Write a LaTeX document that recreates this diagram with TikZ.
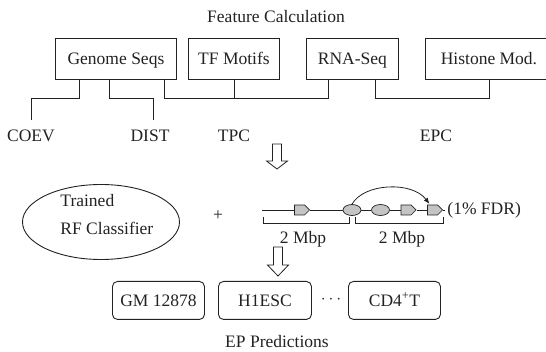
\documentclass[tikz,border=0pt]{standalone}
\usepackage{fontspec}
\setmainfont{Liberation Serif}
\usetikzlibrary{shapes.geometric,shapes.symbols,calc,arrows.meta}
\newcommand\figfont{\fontsize{17.5pt}{21pt}\selectfont}
\definecolor{ink}{HTML}{222222}
\definecolor{chip}{HTML}{C4C4C4}
% hollow block arrow pointing down: x, top, head start, tip
\newcommand\DownHollowArrow[4]{%
  \draw[hollow] (#1-4.5,#2) -- (#1+4.5,#2) -- (#1+4.5,#3) -- (#1+10.5,#3)
    -- (#1,#4) -- (#1-10.5,#3) -- (#1-4.5,#3) -- cycle;}
\begin{document}
\begin{tikzpicture}[x=1pt,y=-1pt,color=ink,line width=0.9pt,
  every node/.style={font=\figfont,inner sep=0pt},
  srcbox/.style={draw,anchor=north west,minimum height=41pt,text height=11.5pt,text depth=0pt},
  cellbox/.style={draw,rounded corners=5pt,anchor=north west,minimum height=38pt,text height=11.5pt,text depth=0pt},
  featlabel/.style={anchor=base},
  chipsig/.style={signal,signal to=east,draw,fill=chip,minimum width=15pt,minimum height=10pt,line width=0.7pt},
  chipell/.style={ellipse,draw,fill=chip,minimum width=18pt,minimum height=11pt,line width=0.7pt},
  hollow/.style={draw,fill=white,line width=0.8pt,line join=miter}]
\useasboundingbox (0,0) rectangle (546,352);

% feature calculation stage
\node[anchor=base] (title) at (276,23) {Feature Calculation};
\node[srcbox,minimum width=121pt] (gen)  at (55,38)  {Genome Seqs};
\node[srcbox,minimum width=91pt]  (tf)   at (188,38) {TF Motifs};
\node[srcbox,minimum width=92pt]  (rna)  at (306,38) {RNA-Seq};
\node[srcbox,minimum width=127pt] (hist) at (425,38) {Histone Mod.};

\node[featlabel] (coev) at (31,142)  {COEV};
\node[featlabel] (dist) at (150,142) {DIST};
\node[featlabel] (tpc)  at (234,142) {TPC};
\node[featlabel] (epc)  at (436,142) {EPC};

\coordinate (bus) at (0,98);
\draw[shorten >=10pt] ($(gen.south)+(-36.5,0)$) |- (coev.north |- bus) -- (coev.north);
\draw[shorten >=10pt] ($(gen.south)+(-6.5,0)$) |- ($(dist.north |- bus)+(3,0)$) -- ($(dist.north)+(3,0)$);
\draw ($(gen.south)+(48.5,0)$) |- ($(rna.south |- bus)+(-24,0)$) -- ($(rna.south)+(-24,0)$);
\draw (tf.south) -- (tf.south |- bus);
\draw ($(rna.south)+(23,0)$) |- (hist.south |- bus) -- (hist.south);

\DownHollowArrow{277}{144}{161}{169}

% classifier and genomic window
\node[ellipse,draw,minimum width=157pt,minimum height=75pt] (rf) at (101,222) {};
\node[anchor=base west] (rf1) at (60,207) {Trained};
\node[anchor=base west] (rf2) at (60,235) {RF Classifier};
\node (plus) at (218,216) {+};

\coordinate (chL) at (262,210);
\coordinate (chR) at (445,210);
\node[chipsig] (s1) at (299.5,210) {};
\node[chipell] (e1) at (352,210) {};
\node[chipell] (e2) at (380.5,210) {};
\node[chipsig] (s2) at (406,210) {};
\node[chipsig] (s3) at (432.5,210) {};
\draw[line width=0.8pt] (chL) -- (s1) -- (e1) -- (e2) -- (s2) -- (s3) -- (chR);
\node[anchor=west] (fdr) at (447,210) {(1\% FDR)};
\draw[line width=0.8pt,-{Latex[length=6pt,width=5pt]},shorten >=1pt]
  (e1.north) .. controls (364,183) and (412,181) .. ($(s3.north)+(-2.5,0)$);

\draw[line width=0.8pt] (263,217) |- (349,223) -- (349,217);
\draw[line width=0.8pt] (355,217) |- (443,223) -- (443,217);
\node[anchor=base] (mb1) at (303,244) {2 Mbp};
\node[anchor=base] (mb2) at (402,244) {2 Mbp};

\DownHollowArrow{278}{247}{265}{276}

% predictions per cell line
\node[cellbox,minimum width=92pt] (gm)  at (112,281) {GM 12878};
\node[cellbox,minimum width=93pt] (h1)  at (218,281) {H1ESC};
\node[cellbox,minimum width=92pt] (cd4) at (348,281) {CD4\textsuperscript{+}T};
\node (dots) at (331,300) {$\cdots$};
\node[anchor=base] (ep) at (277,348) {EP Predictions};
\end{tikzpicture}
\end{document}
